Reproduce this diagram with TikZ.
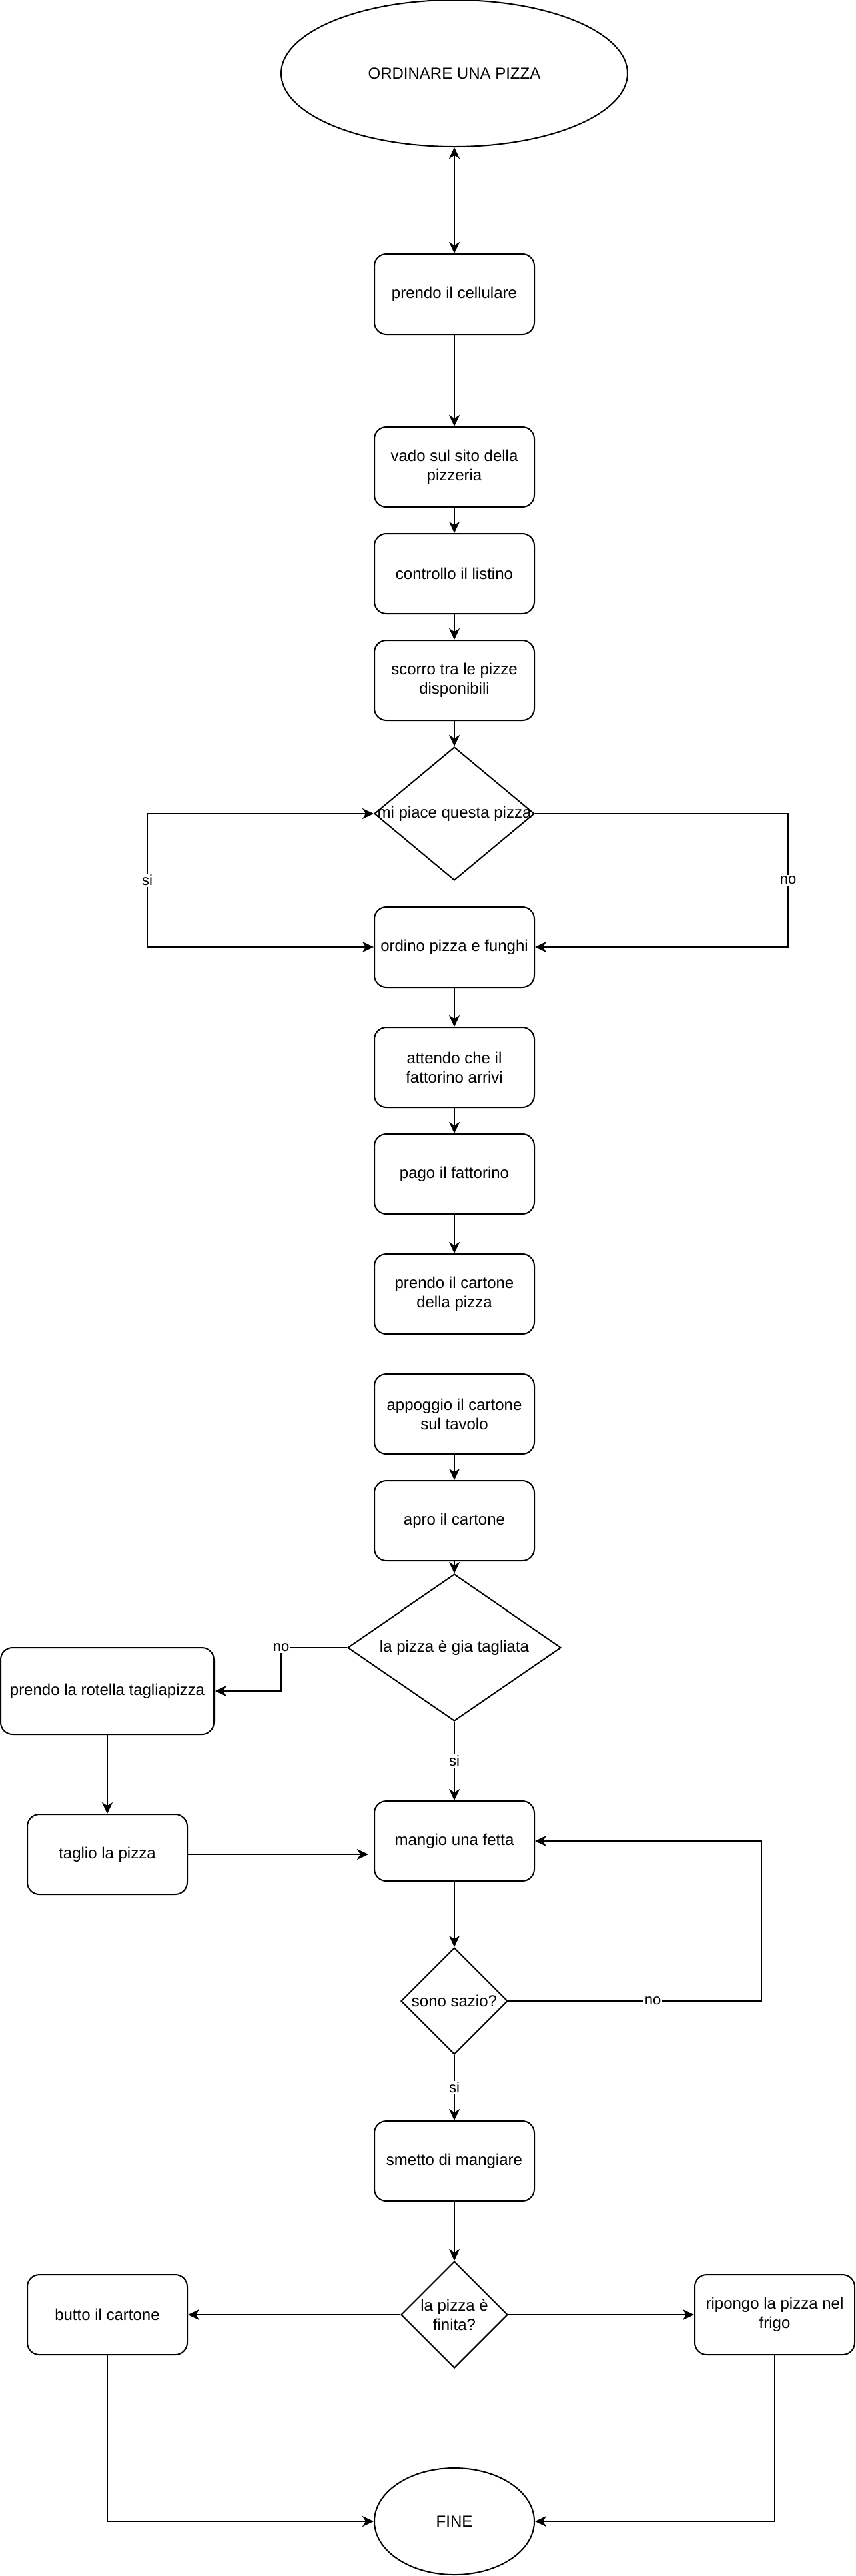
\documentclass[tikz,border=0pt]{standalone}
\usepackage{fontspec}
\setmainfont{Liberation Sans}
\usetikzlibrary{shapes.geometric, arrows.meta}

\begin{document}
\begin{tikzpicture}[x=1pt, y=-1pt, line width=1pt,
    >={Stealth[length=8.5pt, width=8pt, inset=2.5pt]},
    every node/.style={font=\fontsize{12pt}{14.5pt}\selectfont},
    azione/.style={draw, rounded corners=9pt, minimum width=120pt, minimum height=60pt, inner sep=0pt, align=center},
    scelta/.style={draw, diamond, inner sep=0pt},
    terminale/.style={draw, ellipse, inner sep=0pt},
    ramo/.style={fill=white, inner sep=1pt, font=\fontsize{11pt}{13pt}\selectfont}]

    \useasboundingbox (0,0) rectangle (641,1931);

    %inizio
    \node[terminale, minimum width=260pt, minimum height=110pt] (inizio) at (340.5,55) {ORDINARE UNA PIZZA};

    %ordine della pizza
    \node[azione] (cellulare) at (340.5,220.5) {prendo il cellulare};
    \node[azione] (sito) at (340.5,350) {vado sul sito della\\pizzeria};
    \node[azione] (listino) at (340.5,430) {controllo il listino};
    \node[azione] (scorro) at (340.5,510) {scorro tra le pizze\\disponibili};
    \node[scelta, minimum width=120pt, minimum height=100pt, label=center:{mi piace questa pizza}] (piace) at (340.5,610) {};
    \node[azione] (ordino) at (340.5,710) {ordino pizza e funghi};

    %consegna
    \node[azione] (attendo) at (340.5,800) {attendo che il\\fattorino arrivi};
    \node[azione] (pago) at (340.5,880) {pago il fattorino};
    \node[azione] (cartone) at (340.5,970) {prendo il cartone\\della pizza};
    \node[azione] (appoggio) at (340.5,1060) {appoggio il cartone\\sul tavolo};
    \node[azione] (apro) at (340.5,1140) {apro il cartone};

    %taglio e pasto
    \node[scelta, minimum width=160pt, minimum height=110pt, label=center:{la pizza è gia tagliata}] (tagliata) at (340.5,1235) {};
    \node[azione, minimum width=160pt, minimum height=65pt] (rotella) at (80.5,1267.5) {prendo la rotella tagliapizza};
    \node[azione] (taglio) at (80.5,1390) {taglio la pizza};
    \node[azione] (mangio) at (340.5,1380) {mangio una fetta};
    \node[scelta, minimum width=80pt, minimum height=80pt, label=center:{sono sazio?}] (sazio) at (340.5,1500) {};
    \node[azione] (smetto) at (340.5,1620) {smetto di mangiare};

    %fine
    \node[scelta, minimum width=80pt, minimum height=80pt, label={[align=center]center:la pizza è\\finita?}] (finita) at (340.5,1735) {};
    \node[azione] (butto) at (80.5,1735) {butto il cartone};
    \node[azione] (ripongo) at (580.5,1735) {ripongo la pizza nel\\frigo};
    \node[terminale, minimum width=120pt, minimum height=80pt] (fine) at (340.5,1890) {FINE};

    %frecce principali
    \draw[<->] (inizio.south) -- (cellulare.north);
    \draw[->] (cellulare.south) -- (sito.north);
    \draw[->] (sito.south) -- (listino.north);
    \draw[->] (listino.south) -- (scorro.north);
    \draw[->] (scorro.south) -- (piace.north);
    \draw[->] (ordino.south) -- (attendo.north);
    \draw[->] (attendo.south) -- (pago.north);
    \draw[->] (pago.south) -- (cartone.north);
    \draw[->] (appoggio.south) -- (apro.north);
    \draw[->] (apro.south) -- (tagliata.north);

    %rami si / no della scelta
    \coordinate (colsi) at (110.5,660);
    \coordinate (colno) at (590.5,660);
    \draw[<->] (piace.west) -- (piace.west -| colsi) -- (ordino.west -| colsi) -- (ordino.west);
    \node[ramo] (si1) at (colsi) {si};
    \draw[->] (piace.east) -- (piace.east -| colno) -- (ordino.east -| colno) -- (ordino.east);
    \node[ramo] (no1) at (colno) {no};

    %pizza tagliata?
    \coordinate (angolo) at (210.5,1235);
    \draw[->] (tagliata.west) -- (angolo) |- (rotella.east);
    \node[ramo] (no2) at (angolo) {no};
    \draw[->] (tagliata.south) -- node[ramo] (si2) {si} (mangio.north);
    \draw[->] (rotella.south) -- (taglio.north);
    \draw[->] (taglio.east) -- ([xshift=-4pt]mangio.west |- taglio.east);

    %ciclo del pasto
    \coordinate (colsazio) at (570.5,1500);
    \draw[->] (mangio.south) -- (sazio.north);
    \draw[->] (sazio.east) -- node[ramo, pos=0.57] (no3) {no} (colsazio) |- (mangio.east);
    \draw[->] (sazio.south) -- node[ramo] (si3) {si} (smetto.north);
    \draw[->] (smetto.south) -- (finita.north);

    %verso la fine
    \draw[->] (finita.west) -- (butto.east);
    \draw[->] (finita.east) -- (ripongo.west);
    \draw[->] (butto.south) |- (fine.west);
    \draw[->] (ripongo.south) |- (fine.east);

\end{tikzpicture}
\end{document}
